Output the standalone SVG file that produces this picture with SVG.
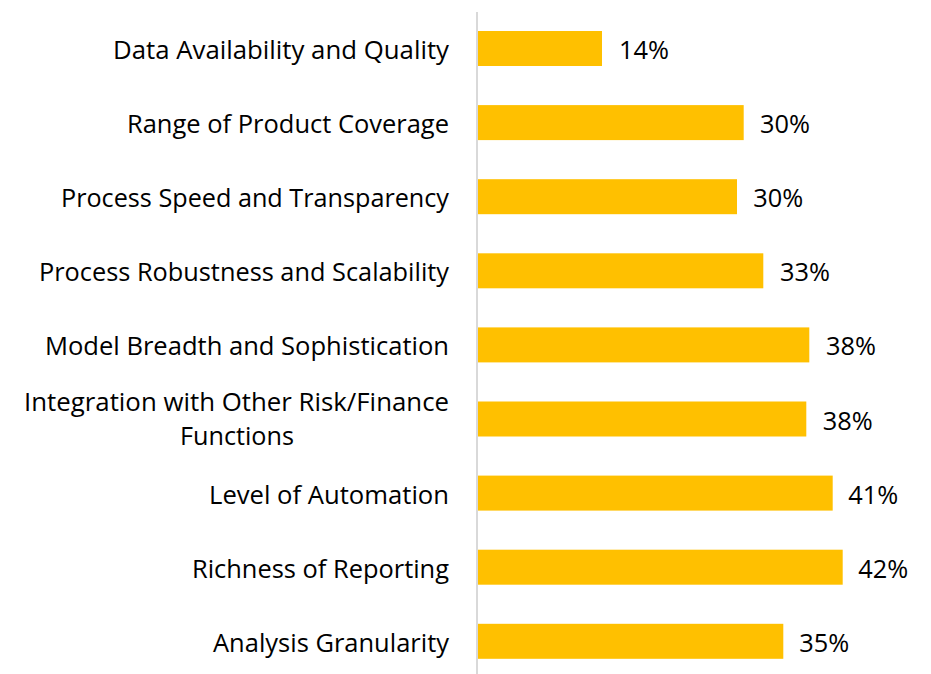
<svg xmlns="http://www.w3.org/2000/svg" width="931" height="674" viewBox="0 0 931 674">
<style>
.lbl{font-family:"Open Sans","Liberation Sans",sans-serif;font-size:25px;fill:#000;text-anchor:end}
.val{font-family:"Open Sans","Liberation Sans",sans-serif;font-size:25px;fill:#000}
.bar{fill:#FFC000}
</style>
<rect width="931" height="674" fill="#fff"/>
<g id="axis"><line x1="477" y1="12" x2="477" y2="674" stroke="#D9D9D9" stroke-width="2"/></g>
<g id="row0"><rect class="bar" x="478" y="31" width="124" height="35"/><text class="lbl" x="449" y="59" textLength="336" lengthAdjust="spacingAndGlyphs">Data Availability and Quality</text><text class="val" x="619" y="59" textLength="50" lengthAdjust="spacingAndGlyphs">14%</text></g>
<g id="row1"><rect class="bar" x="478" y="105.1" width="265.7" height="35"/><text class="lbl" x="449" y="133.1" textLength="322" lengthAdjust="spacingAndGlyphs">Range of Product Coverage</text><text class="val" x="760" y="133.1" textLength="50" lengthAdjust="spacingAndGlyphs">30%</text></g>
<g id="row2"><rect class="bar" x="478" y="179.2" width="259" height="35"/><text class="lbl" x="449" y="207.2" textLength="388" lengthAdjust="spacingAndGlyphs">Process Speed and Transparency</text><text class="val" x="753.3" y="207.2" textLength="50" lengthAdjust="spacingAndGlyphs">30%</text></g>
<g id="row3"><rect class="bar" x="478" y="253.3" width="285.3" height="35"/><text class="lbl" x="449" y="281.3" textLength="410" lengthAdjust="spacingAndGlyphs">Process Robustness and Scalability</text><text class="val" x="780" y="281.3" textLength="50" lengthAdjust="spacingAndGlyphs">33%</text></g>
<g id="row4"><rect class="bar" x="478" y="327.4" width="331.3" height="35"/><text class="lbl" x="449" y="355.4" textLength="404" lengthAdjust="spacingAndGlyphs">Model Breadth and Sophistication</text><text class="val" x="826" y="355.4" textLength="50" lengthAdjust="spacingAndGlyphs">38%</text></g>
<g id="row5"><rect class="bar" x="478" y="401.5" width="328.3" height="35"/><text class="lbl" x="449" y="411" textLength="425" lengthAdjust="spacingAndGlyphs">Integration with Other Risk/Finance</text><text class="lbl" x="294" y="445" textLength="114" lengthAdjust="spacingAndGlyphs">Functions</text><text class="val" x="822.7" y="429.5" textLength="50" lengthAdjust="spacingAndGlyphs">38%</text></g>
<g id="row6"><rect class="bar" x="478" y="475.6" width="354.7" height="35"/><text class="lbl" x="449" y="503.6" textLength="240" lengthAdjust="spacingAndGlyphs">Level of Automation</text><text class="val" x="848.3" y="503.6" textLength="50" lengthAdjust="spacingAndGlyphs">41%</text></g>
<g id="row7"><rect class="bar" x="478" y="549.7" width="364.7" height="35"/><text class="lbl" x="449" y="577.7" textLength="257" lengthAdjust="spacingAndGlyphs">Richness of Reporting</text><text class="val" x="858.3" y="577.7" textLength="50" lengthAdjust="spacingAndGlyphs">42%</text></g>
<g id="row8"><rect class="bar" x="478" y="623.8" width="305.3" height="35"/><text class="lbl" x="449" y="651.8" textLength="236" lengthAdjust="spacingAndGlyphs">Analysis Granularity</text><text class="val" x="799.3" y="651.8" textLength="50" lengthAdjust="spacingAndGlyphs">35%</text></g>
</svg>
